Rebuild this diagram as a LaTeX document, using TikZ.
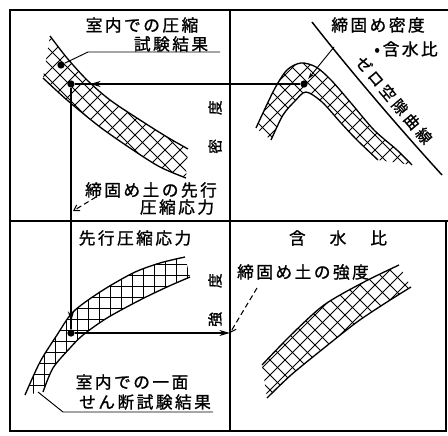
\documentclass[tikz,border=0pt]{standalone}
\usepackage{fontspec}
\setmainfont{Noto Sans CJK JP}
\newfontfamily\jpf[LetterSpace=15,FakeBold=1.2]{Noto Sans CJK JP}
\newfontfamily\jpplain[FakeBold=1.2]{Noto Sans CJK JP}
\newfontfamily\jpzav[LetterSpace=22,FakeBold=1.2]{Noto Sans CJK JP}
\usetikzlibrary{arrows.meta}
\newcommand{\diaghatch}{\foreach \i in {-465,-450,...,900}{\draw[hatchline] (\i,0) -- ++(450,450) (\i,0) -- ++(-450,450);}}
\newcommand{\gridhatch}{\foreach \i in {0,11,...,448}{\draw[hatchline] (\i,0) -- ++(0,440);}\foreach \j in {0,11,...,440}{\draw[hatchline] (0,\j) -- ++(448,0);}}
\tikzset{
  frame/.style={line width=1.5pt},
  conn/.style={line width=1.1pt},
  arr/.style={conn, -{Stealth[length=8pt,width=4.5pt]}},
  leader/.style={line width=0.7pt},
  dleader/.style={line width=0.8pt, dash pattern=on 4pt off 2.5pt, -{Straight Barb[length=4pt,width=5pt]}},
  band/.style={line width=1pt},
  hatchline/.style={line width=0.6pt},
  lbl/.style={font=\jpf\fontsize{12.5}{14}\selectfont, inner sep=0pt},
  vlbl/.style={font=\jpplain\fontsize{11}{12}\selectfont, inner sep=0pt, rotate=90},
  dot/.style={circle, fill, inner sep=0pt, minimum size=5.5pt}
}
\begin{document}
\begin{tikzpicture}[x=0.75pt,y=-0.75pt]
\useasboundingbox (0,0) rectangle (448,435);
% frame
\draw[frame] (448,10) -- (10,10) -- (10,431) -- (446,431) -- (446,221);
\draw[frame] (10,221) -- (448,221);
\draw[frame] (230,10) -- (230,431);
% top-left band (compression test)
\begin{scope}
\clip plot[smooth] coordinates {(50,36) (67,58) (87,80) (110,100) (140,120) (167,137) (188,149)} -- plot[smooth] coordinates {(186,178) (160,167) (133,150) (100,127) (67,100) (43,78)} -- cycle;
\diaghatch
\end{scope}
\draw[band] plot[smooth] coordinates {(50,36) (67,58) (87,80) (110,100) (140,120) (167,137) (188,149)};
\draw[band] plot[smooth] coordinates {(186,178) (160,167) (133,150) (100,127) (67,100) (43,78)};
% top-right band (compaction curve)
\begin{scope}
\clip plot[smooth] coordinates {(256,128) (274,90) (287,70) (301,63) (316,67) (331,80) (351,103) (374,130) (397,150) (412,165)} -- plot[smooth] coordinates {(378,160) (357,140) (341,123) (322,102) (306,92) (295,101) (283,115) (271,140)} -- cycle;
\diaghatch
\end{scope}
\draw[band] plot[smooth] coordinates {(256,128) (274,90) (287,70) (301,63) (316,67) (331,80) (351,103) (374,130) (397,150) (412,165)};
\draw[band] plot[smooth] coordinates {(378,160) (357,140) (341,123) (322,102) (306,92) (295,101) (283,115) (271,140)};
% bottom-left band (shear test)
\begin{scope}
\clip plot[smooth] coordinates {(25,395) (40,362) (57,335) (73,312) (100,292) (133,273) (160,263) (185,257)} -- plot[smooth] coordinates {(190,277) (167,287) (140,300) (107,318) (83,335) (70,348) (53,368) (43,392)} -- cycle;
\gridhatch
\end{scope}
\draw[band] plot[smooth] coordinates {(25,395) (40,362) (57,335) (73,312) (100,292) (133,273) (160,263) (185,257)};
\draw[band] plot[smooth] coordinates {(190,277) (167,287) (140,300) (107,318) (83,335) (70,348) (53,368) (43,392)};
% bottom-right band (strength vs water content)
\begin{scope}
\clip plot[smooth] coordinates {(262,365) (291,335) (324,305) (364,282) (399,265)} -- plot[smooth] coordinates {(411,287) (387,302) (357,322) (324,348) (291,375) (267,398)} -- cycle;
\diaghatch
\end{scope}
\draw[band] plot[smooth] coordinates {(262,365) (291,335) (324,305) (364,282) (399,265)};
\draw[band] plot[smooth] coordinates {(411,287) (387,302) (357,322) (324,348) (291,375) (267,398)};
% zero air void curve
\coordinate (zav1) at (312,22);
\coordinate (zav2) at (442,175);
\draw[conn] (zav1) .. controls (340,58) and (390,118) .. (zav2);
% points
\node[dot] (pc) at (71,84) {};
\node[dot] (pc2) at (61,65) {};
\node[dot] (pd) at (304,84) {};
\node[dot] (ps) at (71,333) {};
\coordinate (pe) at (90,84);
\coordinate (pv) at (71,322);
\coordinate (st) at (230,333);
% connectors
\draw[conn] (pd) -- (pc);
\draw[arr] (pd) -- (pe);
\draw[conn] (pc) -- (ps);
\draw[arr] (pc) -- (pv);
\draw[arr] (ps) -- (st);
% leaders
\coordinate (l1a) at (88,52);
\coordinate (l1b) at (220,52);
\draw[leader] (pc2) -- (l1a) -- (l1b);
\coordinate (l2) at (334,47);
\draw[leader, -{Stealth[length=5pt,width=3pt]}, shorten >=2pt] (l2) -- (pd);
\coordinate (l3a) at (38,392);
\coordinate (l3b) at (63,412);
\coordinate (l3c) at (213,412);
\draw[leader] (l3a) -- (l3b) -- (l3c);
\coordinate (d1a) at (96,197);
\coordinate (d1b) at (73,211);
\draw[dleader] (d1a) -- (d1b);
\coordinate (d2a) at (257,288);
\draw[dleader] (d2a) -- (st);
% labels
\node[lbl] (t1) at (142,25) {室内での圧縮};
\node[lbl] (t2) at (171,44) {試験結果};
\node[lbl] (t3) at (378,25) {締固め密度};
\node[lbl] (t4) at (406,49) {•\,含水比};
\node[font=\jpzav\fontsize{11.5}{13}\selectfont, inner sep=0pt, rotate=-50] (t5) at (394,100) {ゼロ空隙曲線};
\node[lbl] (t6) at (151,190) {締固め土の先行};
\node[lbl] (t7) at (177,207) {圧縮応力};
\node[lbl] (t8) at (135,238) {先行圧縮応力};
\node[font=\jpplain\fontsize{12.5}{14}\selectfont, inner sep=0pt] (t9) at (338,238) {含\hspace{18pt}水\hspace{18pt}比};
\node[lbl] (t10) at (303,272) {締固め土の強度};
\node[lbl] (t11) at (132,382) {室内での一面};
\node[lbl] (t12) at (145,402) {せん断試験結果};
\node[vlbl] (t13) at (215,127) {密\hspace{18pt}度};
\node[vlbl] (t14) at (215,300) {強\hspace{18pt}度};
\end{tikzpicture}
\end{document}
